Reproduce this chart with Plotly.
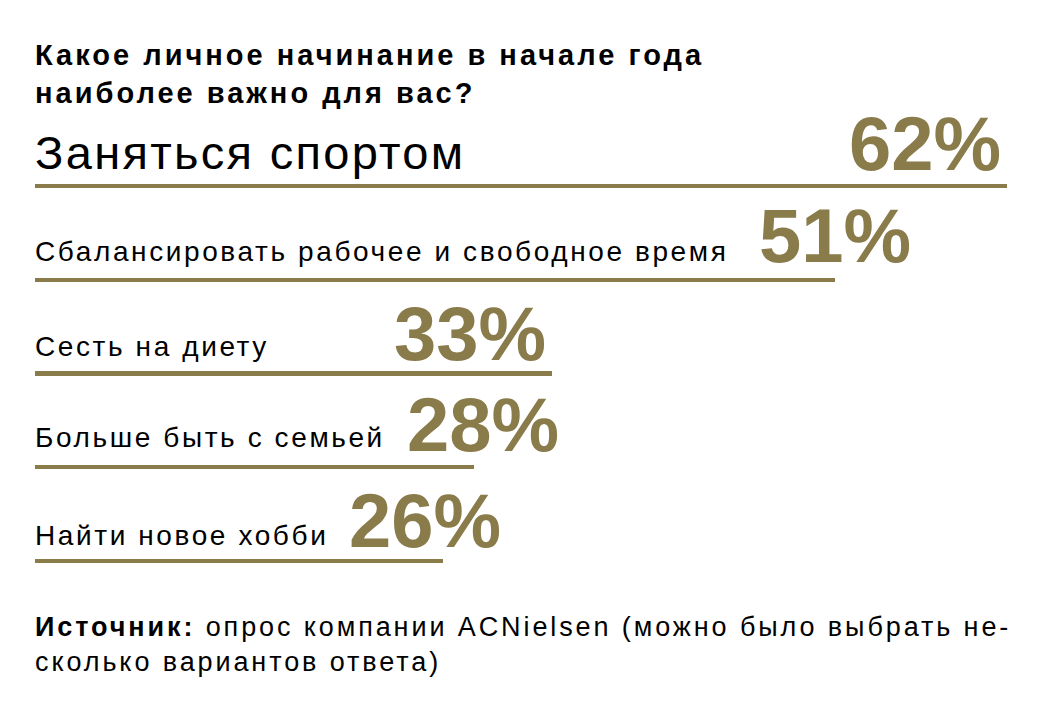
import plotly.graph_objects as go

# survey data
categories = [
    "Заняться спортом",
    "Сбалансировать рабочее и свободное время",
    "Сесть на диету",
    "Больше быть с семьей",
    "Найти новое хобби",
]
values = [62, 51, 33, 28, 26]
value_labels = [f"{v}%" for v in values]

title_lines = ["Какое личное начинание в начале года", "наиболее важно для вас?"]
source_text = ("<b>Источник:</b> опрос компании ACNielsen (можно было выбрать не-"
               "<br>сколько вариантов ответа)")

GOLD = "#8a7b4b"
FONT = "Liberation Sans, Arial, Helvetica, sans-serif"

W, H = 1042, 723
# page body has an 8px margin, so compensate on the left/top
ML, MR, MT, MB = 27, 43, 131, 123

# left edge (px from axis start) of the big percentage labels
pct_shift = [815, 725, 360, 373, 315]
label_size = [47, 28, 28, 28, 28]
label_yshift = [5, 11, 10, 12, 8]
pct_yshift = [-2, 0, -4, -2, -4]

ypos = list(range(len(categories)))

fig = go.Figure()
fig.add_bar(x=values, y=ypos, orientation="h", width=0.045,
            marker=dict(color=GOLD, line=dict(width=0)), hoverinfo="skip")

annotations = []
spacing = {}
for i, (cat, lab) in enumerate(zip(categories, value_labels)):
    spacing[len(annotations)] = 2.3 if i == 0 else 2.6
    annotations.append(dict(
        x=0, y=i, xref="x", yref="y", text=cat, showarrow=False, align="left",
        xanchor="left", yanchor="bottom", xshift=-2, yshift=label_yshift[i],
        font=dict(family=FONT, size=label_size[i], color="#000000"),
    ))
    annotations.append(dict(
        x=0, y=i, xref="x", yref="y", text=f"<b>{lab}</b>", showarrow=False,
        xanchor="left", yanchor="bottom", xshift=pct_shift[i] - 3,
        yshift=pct_yshift[i],
        font=dict(family=FONT, size=76, color=GOLD),
    ))

spacing[len(annotations)] = 3.0
annotations.append(dict(
    x=0, y=1, xref="paper", yref="paper", xanchor="left", yanchor="top",
    xshift=-2, yshift=MT - 29, showarrow=False, align="left",
    text="<b>" + "<br>".join(title_lines) + "</b>",
    font=dict(family=FONT, size=29, color="#000000"),
))
spacing[len(annotations)] = 2.9
annotations.append(dict(
    x=0, y=0, xref="paper", yref="paper", xanchor="left", yanchor="top",
    xshift=-2, yshift=-(602 - (H - MB)), showarrow=False, align="left",
    text=source_text,
    font=dict(family=FONT, size=27, color="#000000"),
))

fig.update_layout(
    width=W, height=H,
    margin=dict(l=ML, r=MR, t=MT, b=MB, pad=0),
    paper_bgcolor="#ffffff", plot_bgcolor="#ffffff",
    showlegend=False, bargap=0,
    annotations=annotations,
)
fig.update_xaxes(range=[0, 62], visible=False, fixedrange=True)
fig.update_yaxes(range=[4.5, -0.5], visible=False, fixedrange=True)

# the reference typesetting uses loose tracking on the black text
tracking = """
var sp = %s;
document.querySelectorAll('.annotation').forEach(function (g) {
  var k = g.getAttribute('data-index');
  if (k in sp) {
    g.querySelectorAll('.annotation-text').forEach(function (el) {
      el.style.letterSpacing = sp[k] + 'px';
    });
  }
});
""" % str({str(k): v for k, v in spacing.items()}).replace("'", '"')

fig.write_html("out.html", config={"displayModeBar": False}, post_script=tracking)
